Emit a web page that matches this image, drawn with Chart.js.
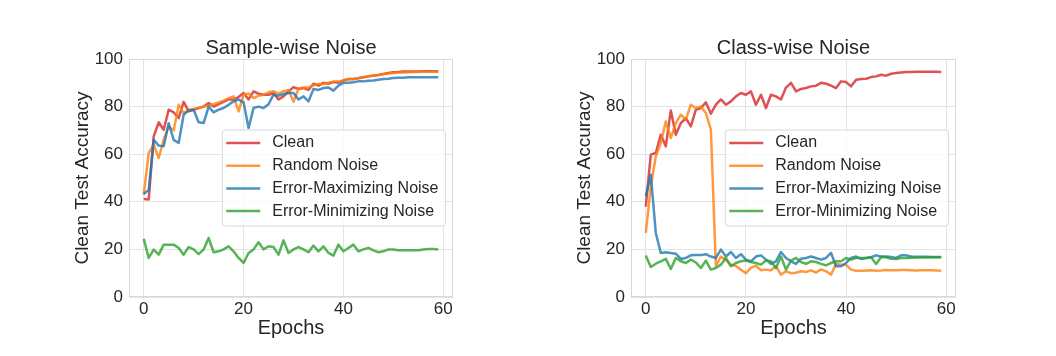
<!DOCTYPE html>
<html><head><meta charset="utf-8">
<script src="https://cdn.jsdelivr.net/npm/chart.js@4.4.1/dist/chart.umd.min.js"></script>
<style>
html,body{margin:0;padding:0;background:#fff;}
#wrap{position:relative;width:1056px;height:356px;overflow:hidden;background:#fff;}
canvas{position:absolute;top:0;}
</style></head><body>
<div id="wrap">
<canvas id="c1" width="528" height="356" style="left:0px"></canvas>
<canvas id="c2" width="528" height="356" style="left:528px"></canvas>
</div>
<script>
const epochs = [0,1,2,3,4,5,6,7,8,9,10,11,12,13,14,15,16,17,18,19,20,21,22,23,24,25,26,27,28,29,30,31,32,33,34,35,36,37,38,39,40,41,42,43,44,45,46,47,48,49,50,51,52,53,54,55,56,57,58,59];
const xTicks = [0,20,40,60];
const yTicks = [0,20,40,60,80,100];
const seriesLabels = ['Clean','Random Noise','Error-Maximizing Noise','Error-Minimizing Noise'];
const panelTitles = ['Sample-wise Noise','Class-wise Noise'];

// Sample-wise Noise
const sampleClean = [41.2,41,67.5,73.4,70.3,78.7,77.6,75.2,82,78,78.7,79.4,80,81.5,80,81,82,83,83,84,85.7,83,86.4,85.4,85,85,85.7,83,84.3,86.4,88.2,87.4,87.8,87,89.6,88.8,90,89.6,90.3,90,91,91.6,91.6,91.9,92.3,92.7,93.1,93.3,93.7,94.1,94.4,94.5,94.7,94.8,94.8,94.8,94.9,94.9,94.9,94.9];
const sampleRandom = [43,60.5,64,58.4,66,71.7,70,80.8,77.3,78.7,79,79.4,80,80.4,81,81.8,82.5,83.5,84.3,78,85,85.5,83.6,84.5,85,86,86.5,85.5,86.5,87,82,87.5,88,88,89,89.5,89.5,90,90.5,90.5,91,91.5,91.5,92,92.3,92.7,93,93.3,93.6,93.9,94.1,94.2,94.3,94.4,94.5,94.5,94.6,94.6,94.6,94.6];
const sampleMax = [43.3,45,66,63.6,63.3,73,66,64.7,76.6,78.4,78.7,73.4,73.1,80,77.6,78.7,79.4,80.8,82.2,83,81.8,71,79.4,80,79.4,81,85,84.6,85.3,85.7,85.7,83,84.3,82.2,87.4,87,87.8,88,86.7,88.8,90,90,90.2,90.6,90.6,90.9,91,91.3,91.6,91.7,92,92.1,92.1,92.3,92.3,92.3,92.3,92.3,92.3,92.3];
const sampleMin = [24.4,16.4,19.9,17.8,22,22,22,20.6,17.8,21,20,18,20,24.8,18.8,19.2,20,21.3,19.2,16.4,14.3,18.5,20,23,20,21.3,21,17.8,23.8,18.5,20,21,20,18.8,21.6,19.2,21.3,18.5,17.4,22,19.2,20.6,22,19.2,20,20.6,19.6,18.8,19.2,20,20,19.6,19.6,19.6,19.6,19.6,20,20.2,20.2,20];

// Class-wise Noise
const classClean = [38,59.8,60.5,68.2,63.3,78.4,68.2,73.1,75.2,71.7,78.7,79.4,81.8,77,80.8,83,80.8,82.2,84.3,85.7,85,86.4,80.8,85,79.4,85,84.3,83,88,90,86.4,87.4,87.8,88.5,88.8,90,89.6,88.8,87.8,90.6,90.3,88.5,91.3,91.6,91.7,92.4,92.7,93.4,93,93.8,94.1,94.3,94.5,94.5,94.6,94.6,94.6,94.6,94.6,94.5];
const classRandom = [26.9,46.5,59,64.7,73.8,66.8,73.1,76.6,74.5,80.8,79.4,80,77.3,70.3,12.9,17,15.5,13.6,13,11.5,10,12.2,13.2,11.2,11.5,11.2,12.9,9.4,10.8,10,10.2,10.8,10.5,11.2,10.3,11.6,10.8,9.4,14,13.6,13.5,11.5,11,11,11.1,11.2,11,11.1,11.3,11.2,11.2,11.3,11.3,11.2,11.1,11.2,11.2,11.2,11.1,11];
const classMax = [42.3,51.4,26.9,18.5,18.8,18.5,18.2,16,16.4,17.5,17.6,17.6,18,17,16.4,19.9,17,18.9,16.4,18,15.7,15,17,17.5,15.7,13.9,15,18.9,16.4,15,13.9,16.1,16.4,17,16.4,15.7,16.4,18.5,12.9,12.9,14.3,16.4,17,16,16.4,16.7,17.5,17,17,16.8,16.4,17.5,17.5,17,16.9,16.9,16.9,16.8,16.8,16.8];
const classMin = [17.4,12.6,14,15,16,11.8,16.4,15,14.3,15.7,14.5,12.2,15.3,11.5,12.2,13.6,16.4,12.9,14.3,15,15.3,14.7,14.3,13.6,15.3,15,12.2,17,11.5,15.3,16.4,14.7,13.9,15,14.7,13.9,13.3,14.3,15,15,16.4,15.7,16.4,16.4,16.4,16.7,13.9,16.8,16.7,16.1,16,16.4,16.4,16.5,16.6,16.6,16.6,16.7,16.7,16.7];

const colors = ['rgba(214,39,40,0.8)','rgba(255,127,14,0.8)','rgba(31,119,180,0.8)','rgba(44,160,44,0.8)'];
const FAMILY = '"Liberation Sans", Arial, Helvetica, sans-serif';
const TEXT = '#262626';
const GRID = '#e4e4e4';
const FRAME = '#d9d9d9';

function makeDatasets(seriesList){
  return seriesList.map((vals, k) => ({
    label: seriesLabels[k],
    data: epochs.map((e, i) => ({x: e, y: vals[i]})),
    borderColor: colors[k],
    backgroundColor: colors[k],
    borderWidth: 2.5,
    pointRadius: 0,
    fill: false,
    tension: 0,
    borderJoinStyle: 'round',
    order: seriesList.length - 1 - k
  }));
}

const decor = {
  id: 'decor',
  afterDatasetsDraw(chart){
    const {ctx, chartArea: a} = chart;
    ctx.save();
    ctx.strokeStyle = FRAME;
    ctx.lineWidth = 1;
    const l = Math.round(a.left) + 0.5, t = Math.round(a.top) + 0.5;
    const r = Math.round(a.right) - 0.5, b = Math.round(a.bottom) - 0.5;
    ctx.strokeRect(l, t, r - l, b - t);
    ctx.restore();
  },
  afterDraw(chart, args, opts){
    const {ctx, chartArea: a} = chart;
    ctx.save();
    // title
    ctx.fillStyle = TEXT;
    ctx.font = '20px ' + FAMILY;
    ctx.textAlign = 'center';
    ctx.textBaseline = 'alphabetic';
    ctx.fillText(opts.title, (a.left + a.right) / 2, 54);
    // legend
    ctx.font = '16px ' + FAMILY;
    const ds = chart.data.datasets;
    let maxW = 0;
    ds.forEach(d => { maxW = Math.max(maxW, ctx.measureText(d.label).width); });
    const w = maxW + 57, h = 96;
    const right = a.right - 7.5;
    const left = right - w;
    const top = (a.top + a.bottom) / 2 - h / 2;
    const rad = 3;
    ctx.beginPath();
    ctx.moveTo(left + rad, top);
    ctx.lineTo(right - rad, top);
    ctx.arcTo(right, top, right, top + rad, rad);
    ctx.lineTo(right, top + h - rad);
    ctx.arcTo(right, top + h, right - rad, top + h, rad);
    ctx.lineTo(left + rad, top + h);
    ctx.arcTo(left, top + h, left, top + h - rad, rad);
    ctx.lineTo(left, top + rad);
    ctx.arcTo(left, top, left + rad, top, rad);
    ctx.closePath();
    ctx.fillStyle = 'rgba(255,255,255,0.8)';
    ctx.fill();
    ctx.strokeStyle = '#d8d8d8';
    ctx.lineWidth = 1;
    ctx.stroke();
    ds.forEach((d, i) => {
      const cy = top + 13 + i * 22.7;
      ctx.beginPath();
      ctx.moveTo(left + 4, cy);
      ctx.lineTo(left + 38, cy);
      ctx.strokeStyle = d.borderColor;
      ctx.lineWidth = 2.5;
      ctx.stroke();
      ctx.fillStyle = TEXT;
      ctx.textAlign = 'left';
      ctx.textBaseline = 'middle';
      ctx.fillText(d.label, left + 50, cy);
    });
    ctx.restore();
  }
};

function makeChart(id, seriesList, title, padLeft, padRight){
  return new Chart(document.getElementById(id), {
    type: 'line',
    data: { datasets: makeDatasets(seriesList) },
    plugins: [decor],
    options: {
      responsive: false,
      animation: false,
      devicePixelRatio: 1,
      events: [],
      layout: { padding: { left: padLeft, right: padRight, top: 59, bottom: 9 } },
      plugins: {
        legend: { display: false },
        tooltip: { enabled: false },
        title: { display: false },
        decor: { title: title }
      },
      scales: {
        x: {
          type: 'linear',
          min: -2.95, max: 61.95,
          afterBuildTicks: s => { s.ticks = xTicks.map(v => ({value: v})); },
          afterFit: s => { s.height = 50; },
          grid: { color: GRID, lineWidth: 1, drawTicks: false },
          border: { display: false },
          ticks: { padding: 2, color: TEXT, font: { size: 17, family: FAMILY } },
          title: { display: true, text: 'Epochs', color: TEXT, font: { size: 20, family: FAMILY }, padding: { top: 0, bottom: 7 } }
        },
        y: {
          type: 'linear',
          min: 0, max: 100,
          afterBuildTicks: s => { s.ticks = yTicks.map(v => ({value: v})); },
          afterFit: s => { s.width = 69; },
          grid: { color: GRID, lineWidth: 1, drawTicks: false },
          border: { display: false },
          ticks: { padding: 6, color: TEXT, font: { size: 17, family: FAMILY } },
          title: { display: true, text: 'Clean Test Accuracy', color: TEXT, font: { size: 19, family: FAMILY }, padding: { top: 11, bottom: 0 } }
        }
      }
    }
  });
}

makeChart('c1', [sampleClean, sampleRandom, sampleMax, sampleMin], panelTitles[0], 60, 75);
makeChart('c2', [classClean, classRandom, classMax, classMin], panelTitles[1], 34, 100);
</script>
</body></html>
